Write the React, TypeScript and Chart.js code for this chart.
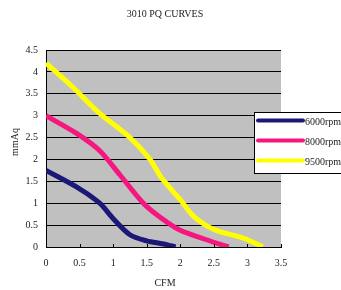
import React, { useEffect, useRef } from "react";
import { Chart, registerables } from "chart.js";

Chart.register(...registerables);

const TITLE = "3010 PQ CURVES";
const X_TITLE = "CFM";
const Y_TITLE = "mmAq";

const SERIES_LABELS = ["6000rpm", "8000rpm", "9500rpm"];
const SERIES_COLORS = ["#1c1878", "#f5177f", "#ffff00"];

const CFM_6000 = [0, 0.5, 0.8, 1.0, 1.25, 1.5, 1.75, 1.93];
const MMAQ_6000 = [1.75, 1.33, 1.0, 0.65, 0.28, 0.14, 0.07, 0];

const CFM_8000 = [0, 0.45, 0.8, 1.1, 1.45, 1.7, 2.0, 2.4, 2.72];
const MMAQ_8000 = [3.0, 2.6, 2.2, 1.65, 1.0, 0.68, 0.38, 0.16, 0];

const CFM_9500 = [0, 0.4, 0.8, 1.25, 1.55, 1.72, 2.0, 2.2, 2.5, 2.95, 3.23];
const MMAQ_9500 = [4.2, 3.65, 3.05, 2.5, 2.0, 1.58, 1.08, 0.7, 0.4, 0.2, 0];

const X_MIN = 0;
const X_MAX = 3.5;
const X_STEP = 0.5;
const Y_MIN = 0;
const Y_MAX = 4.5;
const Y_STEP = 0.5;

const FONT = "'Liberation Serif', 'Times New Roman', serif";
const TEXT_COLOR = "#222";

function toPoints(xs: number[], ys: number[]) {
  return xs.map((x, i) => ({ x, y: ys[i] }));
}

const decorPlugin = {
  id: "decor",
  beforeDraw(chart: any) {
    const { ctx, chartArea } = chart;
    ctx.save();
    ctx.fillStyle = "#c0c0c0";
    ctx.fillRect(chartArea.left, chartArea.top, chartArea.right - chartArea.left, chartArea.bottom - chartArea.top);
    ctx.restore();
  },
  afterDatasetsDraw(chart: any) {
    const { ctx, chartArea } = chart;
    const xs = chart.scales.x;
    ctx.save();
    ctx.strokeStyle = "#000";
    ctx.lineWidth = 1;
    xs.ticks.forEach((t: any) => {
      const px = Math.round(xs.getPixelForValue(t.value)) + 0.5;
      ctx.beginPath();
      ctx.moveTo(px, chartArea.bottom);
      ctx.lineTo(px, chartArea.bottom - 3);
      ctx.stroke();
    });
    ctx.restore();
  },
  afterDraw(chart: any) {
    const { ctx } = chart;
    ctx.save();
    ctx.fillStyle = TEXT_COLOR;
    ctx.font = `10px ${FONT}`;
    ctx.textAlign = "center";
    ctx.textBaseline = "middle";
    ctx.fillText(TITLE, 165, 14);
    ctx.fillText(X_TITLE, 165, 283);
    ctx.translate(15, 142);
    ctx.rotate(-Math.PI / 2);
    ctx.fillText(Y_TITLE, 0, 0);
    ctx.restore();

    ctx.save();
    ctx.fillStyle = "#fff";
    ctx.fillRect(254.5, 112.5, 100, 61);
    ctx.strokeStyle = "#000";
    ctx.lineWidth = 1;
    ctx.strokeRect(254.5, 112.5, 100, 61);
    chart.data.datasets.forEach((ds: any, i: number) => {
      const y = 120.5 + i * 20;
      ctx.strokeStyle = ds.borderColor;
      ctx.lineWidth = 4;
      ctx.lineCap = "round";
      ctx.beginPath();
      ctx.moveTo(258, y);
      ctx.lineTo(303, y);
      ctx.stroke();
      ctx.fillStyle = TEXT_COLOR;
      ctx.font = `10px ${FONT}`;
      ctx.textAlign = "left";
      ctx.textBaseline = "middle";
      ctx.fillText(ds.label, 305, y + 2);
    });
    ctx.restore();
  },
};

export default function App() {
  const canvasRef = useRef<HTMLCanvasElement | null>(null);

  useEffect(() => {
    document.body.style.margin = "0";
    const canvas = canvasRef.current;
    if (!canvas) return;
    const datasets = [
      toPoints(CFM_6000, MMAQ_6000),
      toPoints(CFM_8000, MMAQ_8000),
      toPoints(CFM_9500, MMAQ_9500),
    ].map((data, i) => ({
      label: SERIES_LABELS[i],
      data,
      borderColor: SERIES_COLORS[i],
      backgroundColor: SERIES_COLORS[i],
      borderWidth: 5,
      pointRadius: 0,
      tension: 0.3,
      fill: false,
    }));

    const fmt = (v: any) => String(Math.round(Number(v) * 10) / 10);

    const chart = new Chart(canvas, {
      type: "line",
      data: { datasets },
      options: {
        animation: false,
        responsive: false,
        maintainAspectRatio: false,
        layout: { padding: { left: 0, right: 60, top: 50, bottom: 0 } },
        plugins: {
          legend: { display: false },
          title: { display: false },
          tooltip: { enabled: false },
        },
        scales: {
          x: {
            type: "linear",
            min: X_MIN,
            max: X_MAX,
            ticks: {
              stepSize: X_STEP,
              padding: 10,
              color: TEXT_COLOR,
              font: { family: FONT, size: 10 },
              maxRotation: 0,
              callback: fmt,
            },
            grid: { display: false, drawTicks: false },
            border: { display: true, color: "#000", width: 1 },
            afterFit: (s: any) => {
              s.height = 43;
            },
          },
          y: {
            type: "linear",
            min: Y_MIN,
            max: Y_MAX,
            ticks: {
              stepSize: Y_STEP,
              padding: 8,
              color: TEXT_COLOR,
              font: { family: FONT, size: 10 },
              callback: fmt,
            },
            grid: { color: "#000", lineWidth: 1, drawTicks: false },
            border: { display: true, color: "#000", width: 1 },
            afterFit: (s: any) => {
              s.width = 46;
            },
          },
        },
      },
      plugins: [decorPlugin],
    } as any);
    return () => chart.destroy();
  }, []);

  return (
    <div style={{ position: "fixed", left: 0, top: 0, width: 341, height: 290, background: "#fff" }}>
      <canvas ref={canvasRef} width={341} height={290} style={{ width: 341, height: 290, display: "block" }} />
    </div>
  );
}
